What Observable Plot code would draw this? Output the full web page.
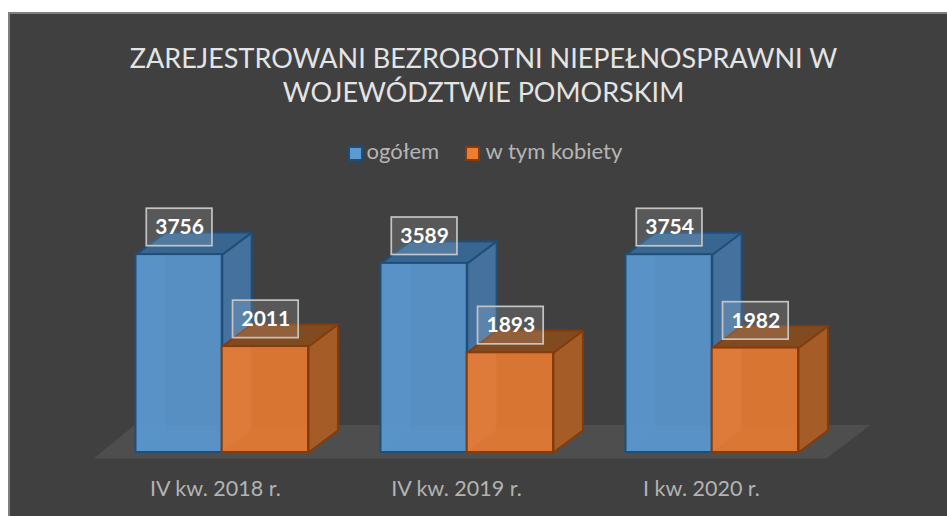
<!DOCTYPE html>
<html lang="pl">
<head>
<meta charset="utf-8">
<script src="https://cdn.jsdelivr.net/npm/d3@7"></script>
<script src="https://cdn.jsdelivr.net/npm/@observablehq/plot@0.6"></script>
<style>
html,body{margin:0;padding:0;background:#fff;overflow:hidden;width:947px;height:516px}
#chart{position:absolute;left:8px;top:12px;width:939px;height:504px;box-sizing:border-box;background:#404040;border-left:2px solid #7f7f7f;border-top:2px solid #7f7f7f;font-family:Lato,sans-serif;overflow:hidden}
#head{height:176px;position:relative}
#title{position:absolute;left:0;width:947px;top:27px;text-align:center;font-size:27px;line-height:34px;color:#e4e4e4}
#legend{position:absolute;top:125px;left:0;width:100%;height:24px;font-size:22px;line-height:24px;color:#b5b5b5}
.sw{position:absolute;top:7px;width:11px;height:11px;border-width:2px;border-style:solid}
.lb{position:absolute;top:0}
svg{display:block}
g[aria-label="label boxes"] rect{filter:drop-shadow(0 0 6px rgba(0,0,0,.28))}
</style>
</head>
<body>
<div id="chart">
  <div id="head">
    <div id="title">ZAREJESTROWANI BEZROBOTNI NIEPEŁNOSPRAWNI W<br>WOJEWÓDZTWIE POMORSKIM</div>
    <div id="legend"></div>
  </div>
</div>
<script>
const categories = ["IV kw. 2018 r.", "IV kw. 2019 r.", "I kw. 2020 r."];
const ogolem = [3756, 3589, 3754];
const kobiety = [2011, 1893, 1982];
const seriesNames = ["ogółem", "w tym kobiety"];
const tickPlaces = [0.473, 1.457, 2.457];

// geometry in scale units
const barStart = [0.149, 0.501], barWidth = 0.352;
const depthX = 0.1200, depthY = 417;
const boxW = 0.268, boxH = 711, boxLift = 515;
const floorY = [-115, 522], floorFront = [-0.024, 2.967], floorBack = [0.143, 3.147];

const styleOf = [
  {fill:"#5b9bd5", stroke:"#1f4e79", side:"#44719d", top:"#396690"},
  {fill:"#ed7d31", stroke:"#843c0c", side:"#a65c26", top:"#824a1f"}
];

const bars = [];
[ogolem, kobiety].forEach((vals, s) => vals.forEach((v, g) => {
  const x1 = g + barStart[s];
  bars.push({s, g, v, x1, x2: x1 + barWidth, st: styleOf[s]});
}));

const poly = pts => pts.concat([pts[0]]);
const faceMark = (pts, fill, stroke, fillOpacity, strokeOpacity = 1) =>
  Plot.line(poly(pts), {x: d => d[0], y: d => d[1], fill, fillOpacity, stroke, strokeWidth: 2, strokeOpacity, strokeLinejoin: "miter", curve: "linear"});

const marks = [];
marks.push(faceMark([[floorFront[0],floorY[0]],[floorFront[1],floorY[0]],[floorBack[1],floorY[1]],[floorBack[0],floorY[1]]], "#4f4e4e", "none", 1));

for (const b of bars) {
  const {x1, x2, v, st} = b, dx = depthX, dy = depthY;
  // inner faces seen through the translucent front
  marks.push(faceMark([[x1+dx,dy],[x2+dx,dy],[x2+dx,v+dy],[x1+dx,v+dy]], st.side, "none", 0.25));
  marks.push(faceMark([[x1,0],[x1+dx,dy],[x1+dx,v+dy],[x1,v]], st.fill, "none", 0.35));
  marks.push(faceMark([[x1,0],[x2,0],[x2+dx,dy],[x1+dx,dy]], st.fill, "none", 0.2));
  // outer faces
  marks.push(faceMark([[x2,0],[x2+dx,dy],[x2+dx,v+dy],[x2,v]], st.side, st.stroke, 1));
  marks.push(faceMark([[x1,v],[x2,v],[x2+dx,v+dy],[x1+dx,v+dy]], st.top, st.stroke, 1));
  marks.push(Plot.rect([b], {x1: "x1", x2: "x2", y1: 0, y2: "v", fill: st.fill, fillOpacity: 0.86, stroke: st.stroke, strokeWidth: 2}));
}

const boxCenter = b => (b.x1 + b.x2) / 2 + 0.002;
marks.push(Plot.rect(bars, {
  ariaLabel: "label boxes",
  x1: b => boxCenter(b) - boxW/2, x2: b => boxCenter(b) + boxW/2,
  y1: b => b.v + boxLift - boxH/2, y2: b => b.v + boxLift + boxH/2,
  fill: "#ffffff", fillOpacity: 0.13, stroke: "#c4c4c4", strokeWidth: 1.7
}));
marks.push(Plot.text(bars, {
  x: boxCenter, y: b => b.v + boxLift, text: b => String(b.v),
  fill: "#ffffff", fontSize: 21, fontWeight: 700, fontFamily: "Lato, sans-serif", lineAnchor: "middle"
}));
marks.push(Plot.axisX({
  ticks: tickPlaces, tickSize: 0, tickPadding: 28, anchor: "bottom", label: null,
  tickFormat: (d, i) => categories[i], fontSize: 21.5, fill: "#b3b3b3", fontFamily: "Lato, sans-serif", textOverflow: null
}));

const plot = Plot.plot({
  width: 937, height: 326,
  marginLeft: 89, marginRight: 113, marginTop: 0, marginBottom: 64,
  x: {type: "linear", domain: [0, 3], axis: null},
  y: {type: "linear", domain: [0, 4972], axis: null},
  style: {background: "transparent", overflow: "visible"},
  marks
});
document.getElementById("chart").appendChild(plot);

// legend, built from the series names
const legend = document.getElementById("legend");
const swX = [337.5, 455.3], lbX = [356.5, 475.5];
seriesNames.forEach((n, i) => {
  const sw = document.createElement("span");
  sw.className = "sw"; sw.style.left = swX[i] + "px";
  sw.style.background = styleOf[i].fill; sw.style.borderColor = styleOf[i].stroke;
  const lb = document.createElement("span");
  lb.className = "lb"; lb.style.left = lbX[i] + "px"; lb.textContent = n;
  legend.append(sw, lb);
});
</script>
</body>
</html>
